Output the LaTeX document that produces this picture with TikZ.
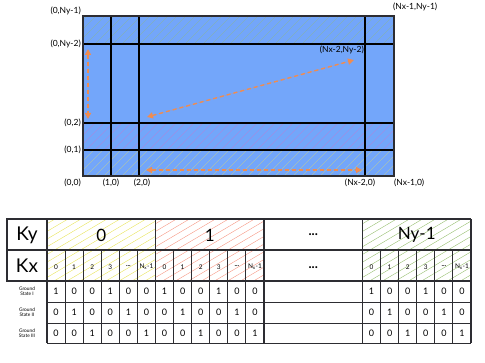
\documentclass[tikz,border=0pt]{standalone}
\usepackage{fontspec}
\setmainfont{Lato}
\usetikzlibrary{arrows.meta}
\definecolor{cellblue}{RGB}{115,166,250}
\definecolor{hoporange}{RGB}{240,140,80}
\definecolor{hatchyellow}{RGB}{232,228,90}
\definecolor{hatchpink}{RGB}{214,110,200}
\definecolor{hatchgreen}{RGB}{150,190,110}
\definecolor{hatchred}{RGB}{246,150,130}
\definecolor{rim}{RGB}{45,45,50}

\begin{document}
\begin{tikzpicture}[x=1pt,y=-1pt,>={Triangle[length=6pt,width=6pt]},
 lab/.style={font=\fontsize{8.5}{9}\selectfont,inner sep=0pt},
 hop/.style={<->,draw=hoporange,fill=hoporange,line width=1.4pt,dash pattern=on 4pt off 3pt},
 gridline/.style={draw=black,line width=1.2pt},
 tabline/.style={draw=rim,line width=0.9pt},
 big/.style={font=\fontsize{19}{20}\selectfont,inner sep=0pt},
 small/.style={font=\fontsize{6.5}{7}\selectfont,inner sep=0pt},
 val/.style={font=\fontsize{9}{10}\selectfont,inner sep=0pt},
 gs/.style={font=\fontsize{4.8}{5.4}\selectfont,align=center,inner sep=0pt}]
\useasboundingbox (0,0) rectangle (485,363);

% lattice of sites
\fill[cellblue] (83,16) rectangle (394,176);
\foreach \ya/\yb/\hc in {16/44/hatchgreen,123/150/hatchpink,150/176/hatchyellow} {
  \begin{scope}
    \clip (83,\ya) rectangle (394,\yb);
    \foreach \s in {50,59,...,400} {\draw[\hc,line width=0.3pt,opacity=0.75] (\s,\yb)--++(\yb-\ya,\ya-\yb);}
  \end{scope}
}
\foreach \x in {111,139,365} {\draw[gridline] (\x,16)--(\x,176);}
\foreach \y in {44,123,150} {\draw[gridline] (83,\y)--(394,\y);}
\draw[rim,line width=1.6pt] (83,16) rectangle (394,176);

\node[lab,anchor=east] (l0ny1) at (81,11) {(0,Ny-1)};
\node[lab,anchor=east] (l0ny2) at (81,44) {(0,Ny-2)};
\node[lab,anchor=east] (l02) at (81,123) {(0,2)};
\node[lab,anchor=east] (l01) at (81,150) {(0,1)};
\node[lab,anchor=east] (l00) at (81,183) {(0,0)};
\node[lab] (l10) at (111,183) {(1,0)};
\node[lab] (l20) at (142,183) {(2,0)};
\node[lab] (lnx20) at (360,183) {(Nx-2,0)};
\node[lab,anchor=west] (lnx10) at (394,183) {(Nx-1,0)};
\node[lab,anchor=west] (lnx1ny1) at (393,7) {(Nx-1,Ny-1)};
\node[lab,anchor=east] (lnx2ny2) at (364,50) {(Nx-2,Ny-2)};

% hopping paths
\coordinate (vtop) at (88,49);
\coordinate (vbot) at (88,119);
\coordinate (dlow) at (147,117);
\coordinate (dup) at (354,60);
\coordinate (hleft) at (146,170);
\coordinate (hright) at (362,170);
\draw[hop] (vtop)--(vbot);
\draw[hop] (dlow)--(dup);
\draw[hop] (hleft)--(hright);

% table hatching
\foreach \bx/\hc in {47/hatchyellow,155.5/hatchred,362.5/hatchgreen} {
  \begin{scope}
    \clip (\bx,219) rectangle (\bx+108.5,281);
    \foreach \s in {-110,-97,...,110} {\draw[\hc,line width=0.4pt] (\bx+\s,281)--++(105,-62);}
  \end{scope}
}

% table rules
\draw[tabline,line width=1.2pt] (7,219) rectangle (47,281);
\foreach \y in {219,250,281} {\draw[tabline,line width=1.2pt] (7,\y)--(471,\y);}
\foreach \y in {302,323,343} {\draw[tabline] (47,\y)--(471,\y);}
\foreach \x in {47,155.5,264,362.5,471} {\draw[tabline,line width=1.2pt] (\x,219)--(\x,343);}
\foreach \bx in {47,155.5,362.5} {
  \foreach \c in {1,...,5} {\draw[tabline] (\bx+\c*18.083,250)--(\bx+\c*18.083,343);}
}

% headers
\node[big] (ky) at (27,235) {Ky};
\node[big] (kx) at (27,266) {Kx};
\node[big,font=\fontsize{17}{18}\selectfont] (ky0) at (101.25,235) {0};
\node[big,font=\fontsize{17}{18}\selectfont] (ky1) at (209.75,235) {1};
\node[val,font=\fontsize{13}{14}\selectfont] (kydots) at (313.25,235) {\textbf{...}};
\node[big,font=\fontsize{17}{18}\selectfont] (kyn) at (416.75,235) {Ny-1};
\node[val,font=\fontsize{13}{14}\selectfont] (kxdots) at (313.25,268) {\textbf{...}};
\foreach \bx [count=\b] in {47,155.5,362.5} {
  \foreach \k [count=\c] in {0,1,2,3,\raisebox{1.5pt}{\textbf{...}},{N\textsubscript{x}-1}} {
    \node[small] (kx\b\c) at (\bx+\c*18.083-9.04,267) {\k};
  }
}

% ground states
\foreach \r/\nm/\vals in {1/I/{1,0,0,1,0,0},2/II/{0,1,0,0,1,0},3/III/{0,0,1,0,0,1}} {
  \node[gs] (gs\r) at (27,270.5+\r*21) {Ground\\State \nm};
  \foreach \bx [count=\b] in {47,155.5,362.5} {
    \foreach \v [count=\c] in \vals {
      \node[val] (v\r\b\c) at (\bx+\c*18.083-9.04,270.5+\r*21) {\v};
    }
  }
}
\end{tikzpicture}
\end{document}
